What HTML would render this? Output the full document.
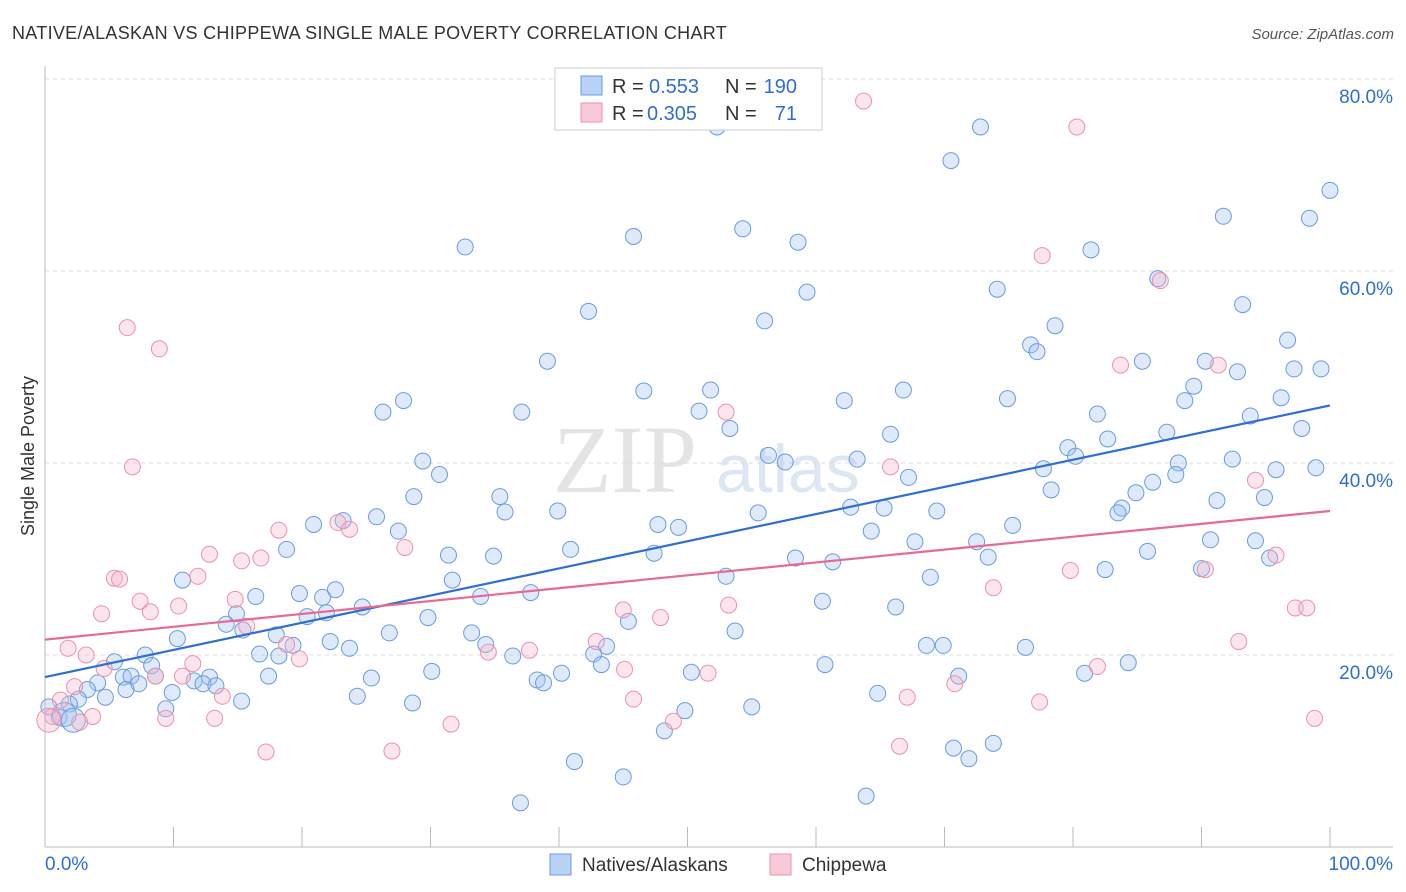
<!DOCTYPE html>
<html><head><meta charset="utf-8">
<style>
body{margin:0;background:#fff;font-family:"Liberation Sans",sans-serif;}
svg{display:block}
</style></head>
<body>
<svg id="chart" width="1406" height="892" xmlns="http://www.w3.org/2000/svg">
<text x="12" y="39" font-size="18" fill="#333" letter-spacing="0.3" font-family="Liberation Sans, sans-serif">NATIVE/ALASKAN VS CHIPPEWA SINGLE MALE POVERTY CORRELATION CHART</text>
<text x="1394" y="39" font-size="15" fill="#555" font-style="italic" text-anchor="end">Source: ZipAtlas.com</text>
<text x="553" y="492" font-size="96" fill="#e4e4e4" font-family="Liberation Serif, serif">ZIP</text>
<text x="716" y="492" font-size="68" fill="#dde6f3">atlas</text>
<text transform="translate(34,456) rotate(-90)" font-size="18" fill="#333" text-anchor="middle">Single Male Poverty</text>
<g id="grid"></g>
<g id="axes"></g>
<g id="pts"></g>
<g id="trends"></g>
<g>
<rect x="555" y="68" width="267" height="62" fill="#fff" stroke="#ccc"/>
<rect x="581" y="76" width="21" height="19" fill="#b8d3f5" stroke="#6a9be0"/>
<rect x="581" y="103" width="21" height="19" fill="#f9c9d7" stroke="#eb92ad"/>
<text x="612" y="93" font-size="20" fill="#333">R =</text>
<text x="649" y="93" font-size="20" fill="#2f6fd1">0.553</text>
<text x="725" y="93" font-size="20" fill="#333">N =</text>
<text x="797" y="93" font-size="20" fill="#2f6fd1" text-anchor="end">190</text>
<text x="612" y="120" font-size="20" fill="#333">R =</text>
<text x="647" y="120" font-size="20" fill="#2f6fd1">0.305</text>
<text x="725" y="120" font-size="20" fill="#333">N =</text>
<text x="797" y="120" font-size="20" fill="#2f6fd1" text-anchor="end">71</text>
</g>
<g>
<rect x="550" y="854" width="21" height="21" fill="#b8d3f5" stroke="#6a9be0"/>
<text x="582" y="871" font-size="19" fill="#333">Natives/Alaskans</text>
<rect x="770" y="854" width="21" height="21" fill="#f9c9d7" stroke="#eb92ad"/>
<text x="802" y="871" font-size="19" fill="#333">Chippewa</text>
</g>
</svg>
<script>
const yTicks=[20,40,60,80];
const yTickLabels=["20.0%","40.0%","60.0%","80.0%"];
const xTicks=[0,10,20,30,40,50,60,70,80,90,100];
const xEndLabels=["0.0%","100.0%"];
const blueX=[52.3,72.8,70.5,100,91.7,98.4,54.3,45.8,58.6,32.7,81.4,86.6,74.1,59.3,93.2,42.3,56.0,78.6,96.7,76.7,77.2,39.1,85.4,90.3,97.2,99.3,92.8,89.4,46.6,51.8,66.8,88.7,27.9,62.2,74.9,96.2,26.3,37.1,50.9,81.9,93.8,53.3,97.8,65.8,87.3,82.7,79.6,80.2,56.3,57.6,63.2,29.4,92.4,88.2,77.7,95.8,98.9,67.2,88.0,30.7,86.2,78.3,84.9,28.7,35.4,94.9,91.2,83.8,83.5,62.7,65.3,35.8,39.9,55.5,69.4,25.8,23.2,20.9,47.7,49.3,75.3,27.5,64.3,67.7,72.5,90.7,94.2,18.8,40.9,47.4,31.4,34.9,85.8,58.4,73.4,95.3,61.3,82.5,90.0,53.0,68.9,10.7,31.7,22.6,16.4,19.8,33.9,21.6,37.8,60.5,66.2,24.7,14.9,29.8,20.4,21.9,45.4,14.1,15.4,26.8,33.2,53.7,18.0,10.3,22.2,34.3,19.3,43.7,23.7,68.6,69.9,76.3,42.7,16.7,18.2,7.8,36.4,5.4,8.3,43.3,84.3,60.7,30.1,40.2,50.3,80.9,6.1,71.1,17.4,25.4,8.6,12.8,6.7,4.1,11.6,12.3,13.3,38.3,38.8,7.3,3.3,6.3,9.9,24.3,4.7,64.8,2.6,15.3,1.9,28.6,9.4,55.0,49.8,1.1,0.3,48.2,73.8,70.7,71.9,41.2,45.0,63.9,37.0,1.5,2.2];
const blueY=[75.0,75.0,71.5,68.4,65.7,65.5,64.4,63.6,63.0,62.5,62.2,59.2,58.1,57.8,56.5,55.8,54.8,54.3,52.8,52.3,51.6,50.6,50.6,50.6,49.8,49.8,49.5,48.0,47.5,47.6,47.6,46.5,46.5,46.5,46.7,46.8,45.3,45.3,45.4,45.1,44.9,43.6,43.6,43.0,43.2,42.5,41.6,40.7,40.8,40.1,40.4,40.2,40.4,40.0,39.4,39.3,39.5,38.5,38.8,38.8,38.0,37.2,36.9,36.5,36.5,36.4,36.1,35.3,34.8,35.4,35.3,34.9,35.0,34.8,35.0,34.4,34.0,33.6,33.6,33.3,33.5,32.9,32.9,31.8,31.8,32.0,31.9,31.0,31.0,30.6,30.4,30.3,30.8,30.1,30.2,30.1,29.7,28.9,29.0,28.2,28.1,27.8,27.8,26.8,26.1,26.4,26.1,26.0,26.5,25.6,25.0,25.0,24.3,23.9,24.0,24.4,23.5,23.2,22.6,22.3,22.3,22.5,22.1,21.7,21.4,21.1,21.0,20.9,20.7,21.0,21.0,20.8,20.1,20.1,19.9,20.0,19.9,19.3,18.9,19.0,19.2,19.0,18.3,18.1,18.2,18.1,17.7,17.8,17.8,17.6,17.8,17.7,17.8,17.1,17.3,17.0,16.8,17.4,17.1,17.0,16.4,16.4,16.1,15.7,15.6,16.0,15.4,15.2,14.9,15.0,14.4,14.6,14.2,13.5,14.6,12.1,10.8,10.3,9.2,8.9,7.3,5.3,4.6,13.8,13.2];
const pinkX=[63.7,80.3,77.6,86.8,6.4,8.9,83.7,91.3,53.0,6.8,65.8,94.2,22.8,23.7,18.2,28.0,12.8,15.3,16.8,95.8,79.8,90.3,11.9,5.4,5.8,73.8,7.4,14.8,10.4,8.2,4.4,53.2,97.3,98.2,45.0,47.9,15.7,42.9,18.8,92.9,1.8,37.7,34.5,3.2,19.8,11.5,4.6,81.9,45.1,51.6,10.7,8.6,2.3,70.8,13.8,45.8,67.1,77.4,1.2,3.7,9.4,13.2,2.7,0.6,31.6,48.9,98.8,66.5,17.2,27.0,0.3];
const pinkY=[77.7,75.0,61.6,59.0,54.1,51.9,50.2,50.2,45.3,39.6,39.6,38.2,33.8,33.1,33.0,31.2,30.5,29.8,30.1,30.4,28.8,28.9,28.2,28.0,27.9,27.0,25.6,25.8,25.1,24.5,24.3,25.2,24.9,24.9,24.7,23.9,23.0,21.4,21.1,21.4,20.7,20.5,20.3,20.0,19.6,19.1,18.6,18.8,18.5,18.1,17.8,17.8,16.7,17.0,15.7,15.4,15.6,15.1,15.3,13.6,13.4,13.4,13.0,13.6,12.8,13.1,13.4,10.5,9.9,10.0,13.2];
const blueTrend=[17.7,46.0];
const pinkTrend=[21.6,35.0];

const NS="http://www.w3.org/2000/svg";
const X0=45,X1=1330,Y0=847,YS=9.6;
function sx(v){return X0+(X1-X0)*v/100;}
function sy(v){return Y0-v*YS;}
function mk(tag,attrs,parent){const e=document.createElementNS(NS,tag);for(const k in attrs)e.setAttribute(k,attrs[k]);parent.appendChild(e);return e;}
const grid=document.getElementById('grid'),axes=document.getElementById('axes'),pts=document.getElementById('pts'),tr=document.getElementById('trends');
yTicks.forEach((t,i)=>{
  const l=mk('line',{x1:X0,x2:1393,y1:sy(t),y2:sy(t),stroke:'#ddd','stroke-dasharray':'4,4'},grid);
  
  
  const tx=mk('text',{x:1393,y:sy(t)+24,'font-size':19,fill:'#2f6fd1','text-anchor':'end'},grid);
  tx.textContent=yTickLabels[i];
  
  
});
let a=mk('line',{x1:X0,x2:X0,y1:66,y2:Y0,stroke:'#bbb'},axes);


a=mk('line',{x1:X0,x2:1393,y1:Y0,y2:Y0,stroke:'#bbb'},axes);


xTicks.forEach(t=>{
  const l=mk('line',{x1:sx(t),x2:sx(t),y1:827,y2:Y0,stroke:'#bbb'},axes);
  
  
});
let t0=mk('text',{x:45,y:870,'font-size':19,fill:'#2f6fd1'},axes);t0.textContent=xEndLabels[0];


let t1=mk('text',{x:1393,y:870,'font-size':19,fill:'#2f6fd1','text-anchor':'end'},axes);t1.textContent=xEndLabels[1];


blueX.forEach((x,i)=>{
  const r=(i>=blueX.length-2)?12:8;
  const c=mk('circle',{cx:sx(x),cy:sy(blueY[i]),r:r,fill:'rgba(160,196,240,0.35)',stroke:'#6a9be0','stroke-width':1},pts);
  
  
});
pinkX.forEach((x,i)=>{
  const r=(i==pinkX.length-1)?12:8;
  const c=mk('circle',{cx:sx(x),cy:sy(pinkY[i]),r:r,fill:'rgba(245,180,200,0.35)',stroke:'#eb92ad','stroke-width':1},pts);
  
  
});
let b=mk('line',{x1:sx(0),x2:sx(100),y1:sy(blueTrend[0]),y2:sy(blueTrend[1]),stroke:'#2f6fd1','stroke-width':2.2},tr);


let p=mk('line',{x1:sx(0),x2:sx(100),y1:sy(pinkTrend[0]),y2:sy(pinkTrend[1]),stroke:'#e66a93','stroke-width':2.2},tr);


</script>
</body></html>
